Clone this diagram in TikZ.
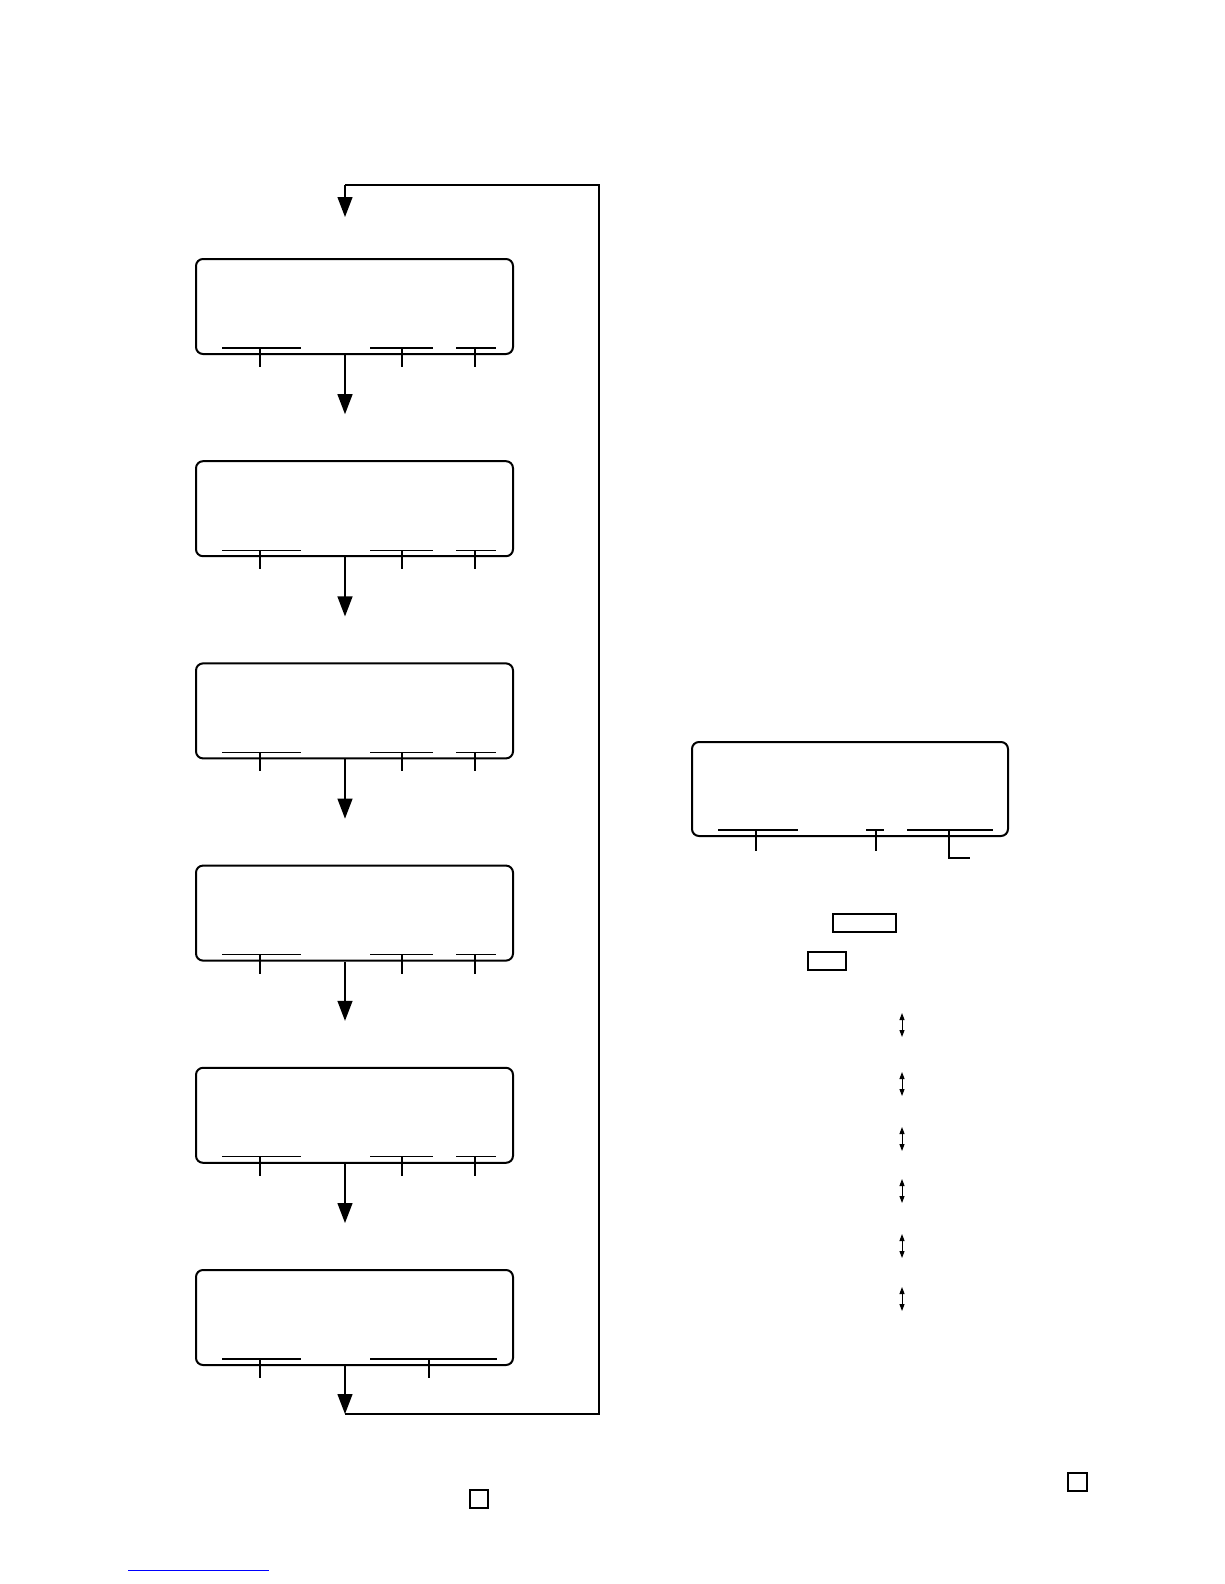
\documentclass[tikz,border=0pt]{standalone}
\usetikzlibrary{arrows.meta,calc}
\begin{document}
\begin{tikzpicture}[x=1pt,y=-1pt,
  lcd/.style={draw,line width=2pt,rounded corners=7pt,minimum width=317pt,minimum height=95pt,inner sep=0pt},
  rbox/.style={draw,line width=1.3pt,inner sep=0pt},
  seg/.style={line width=1.3pt},
  flow/.style={line width=1.3pt,-{Triangle[length=20pt,width=15pt]}},
  updown/.style={line width=1pt,{Triangle[length=7pt,width=5pt]}-{Triangle[length=7pt,width=5pt]}}]
\useasboundingbox (0,0) rectangle (1224,1584);
\coordinate (ax) at (345,0);
\coordinate (rx) at (599,0);
% left column of displays
\foreach \i in {0,...,5}{
  \pgfmathsetmacro\t{259+202.2*\i}
  \node[lcd] (b\i) at (354.5,{\t+47.5}) {};
}
\foreach \i in {0,...,4}{
  \pgfmathsetmacro\u{259+202.2*\i+89}
  \draw[seg] (222,\u) -- (301,\u) (260,\u) -- (260,{\u+19});
  \draw[seg] (370,\u) -- (433,\u) (402,\u) -- (402,{\u+19});
  \draw[seg] (456,\u) -- (496,\u) (475,\u) -- (475,{\u+19});
}
\pgfmathsetmacro\u{259+202.2*5+89}
\draw[seg] (222,\u) -- (301,\u) (260,\u) -- (260,{\u+19});
\draw[seg] (370,\u) -- (497,\u) (429,\u) -- (429,{\u+19});
% flow arrows
\foreach \i/\j in {0/1,1/2,2/3,3/4,4/5}{
  \draw[flow] (b\i.south -| ax) -- ($(b\j.north -| ax)+(0,-46)$);
}
\coordinate (top) at (345,185);
\coordinate (bot) at (345,1414);
\draw[flow] (b5.south -| ax) -- (bot);
\draw[seg] (bot) -- (bot -| rx) -- (top -| rx) -- (top);
\draw[flow] (top) -- ($(b0.north -| ax)+(0,-41)$);
% right display
\node[lcd,minimum width=316pt,minimum height=94pt] (r) at (850,789) {};
\draw[seg] (718,830) -- (798,830) (756,830) -- (756,851);
\draw[seg] (866,830) -- (884,830) (876,830) -- (876,851);
\draw[seg] (907,830) -- (993,830) (949,830) -- (949,858) -- (970,858);
% key boxes
\node[rbox,minimum width=63pt,minimum height=18pt] (k1) at (864.5,923) {};
\node[rbox,minimum width=38pt,minimum height=18pt] (k2) at (827,961) {};
% up/down arrows
\foreach \y [count=\n] in {1025,1084,1139,1191,1246,1299}{
  \coordinate (ua\n) at (902,{\y-12});
  \coordinate (da\n) at (902,{\y+12});
  \draw[updown] (ua\n) -- (da\n);
}
% small squares
\node[rbox,minimum width=18pt,minimum height=18pt] (s1) at (479,1499) {};
\node[rbox,minimum width=19pt,minimum height=18pt] (s2) at (1077.5,1482) {};
% link underline
\coordinate (l1) at (128,1570);
\coordinate (l2) at (269,1570);
\draw[blue,line width=0.8pt] (l1) -- (l2);
\end{tikzpicture}
\end{document}
